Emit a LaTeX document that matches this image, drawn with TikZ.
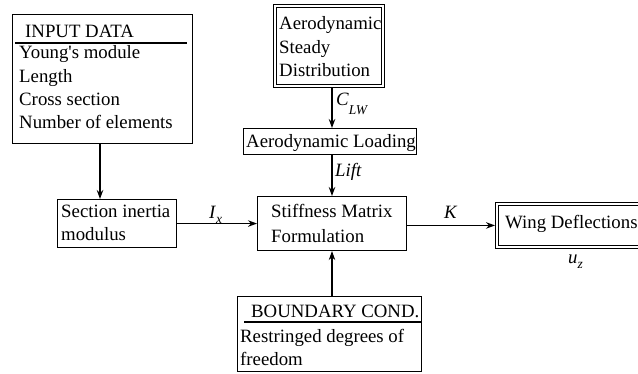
\documentclass[tikz,border=0pt]{standalone}
\usepackage{fontspec}
\setmainfont{Liberation Serif}
\usetikzlibrary{arrows.meta}
\newcommand{\fs}{\fontsize{18.8}{23}\selectfont}
\newcommand{\subfs}{\fontsize{13.5}{13.5}\selectfont}
\tikzset{
  box/.style={draw, line width=1.1pt, rectangle, inner sep=0pt, anchor=north west},
  obox/.style={draw, line width=0.9pt, rectangle, inner sep=0pt, anchor=north west},
  txt/.style={inner sep=0pt, anchor=base west, font=\fs},
  arr/.style={line width=1.1pt, -{Stealth[length=9pt,width=6.5pt]}},
}
\begin{document}
\begin{tikzpicture}[x=1pt,y=-1pt]
\useasboundingbox (0,0) rectangle (638,374);
% boxes
\node[box, minimum width=180pt, minimum height=129pt] (input) at (12,14) {};
\node[box, minimum width=119pt, minimum height=48pt] (sec) at (57,199) {};
\node[box, minimum width=149pt, minimum height=54pt] (stiff) at (257,196) {};
\node[box, minimum width=173pt, minimum height=26pt] (load) at (243,128) {};
\node[box, minimum width=184pt, minimum height=75pt] (bc) at (237,296) {};
\node[obox, minimum width=111pt, minimum height=83pt] (aero) at (273,4) {};
\node[obox, minimum width=155pt, minimum height=46pt] (wing) at (495,202) {};
\draw[line width=0.9pt] ([shift={(3pt,-3pt)}]aero.north west) rectangle ([shift={(-3pt,3pt)}]aero.south east);
\draw[line width=0.9pt] ([shift={(3pt,-3pt)}]wing.north west) rectangle ([shift={(-3pt,3pt)}]wing.south east);
% header rules
\draw[line width=1.1pt] (15,43) -- (187,43);
\draw[line width=1.1pt] (244,322) -- (421,322);
% texts
\node[txt] (t1) at (25,38) {INPUT DATA};
\node[txt] (t2) at (19,59) {Young\textquotesingle s module};
\node[txt] (t3) at (19,83) {Length};
\node[txt] (t4) at (19,106) {Cross section};
\node[txt] (t5) at (19,129) {Number of elements};
\node[txt] (t6) at (61,218) {Section inertia};
\node[txt] (t7) at (61,241) {modulus};
\node[txt] (t8) at (271,218) {Stiffness Matrix};
\node[txt] (t9) at (271,243) {Formulation};
\node[txt] (t10) at (505,229) {Wing Deflections};
\node[txt] (t11) at (279,30) {Aerodynamic};
\node[txt] (t12) at (279,54) {Steady};
\node[txt] (t13) at (279,77) {Distribution};
\node[txt] (t14) at (246,148) {Aerodynamic Loading};
\node[txt] (t15) at (251,318) {BOUNDARY COND.};
\node[txt] (t16) at (240,343) {Restringed degrees of};
\node[txt] (t17) at (240,366) {freedom};
% labels
\node[txt] (lix) at (209,219) {\textit{I}\raisebox{-5pt}{\subfs\textit{x}}};
\node[txt] (lk) at (444,219) {\textit{K}};
\node[txt] (lclw) at (336,106) {\textit{C}\raisebox{-9pt}{\subfs\textit{LW}}};
\node[txt] (llift) at (335,177) {\textit{Lift}};
\node[txt] (luz) at (568,264) {\textit{u}\raisebox{-5pt}{\subfs\textit{z}}};
% connectors
\coordinate (xa) at (100,0);
\coordinate (xb) at (332,0);
\draw[arr] (input.south -| xa) -- (sec.north -| xa);
\draw[arr] (sec.east) -- (stiff.west);
\draw[arr] (stiff.east |- wing.west) -- (wing.west);
\draw[arr] (aero.south -| xb) -- (load.north -| xb);
\draw[arr] (load.south -| xb) -- (stiff.north -| xb);
\draw[arr] (bc.north -| xb) -- (stiff.south -| xb);
\end{tikzpicture}
\end{document}
